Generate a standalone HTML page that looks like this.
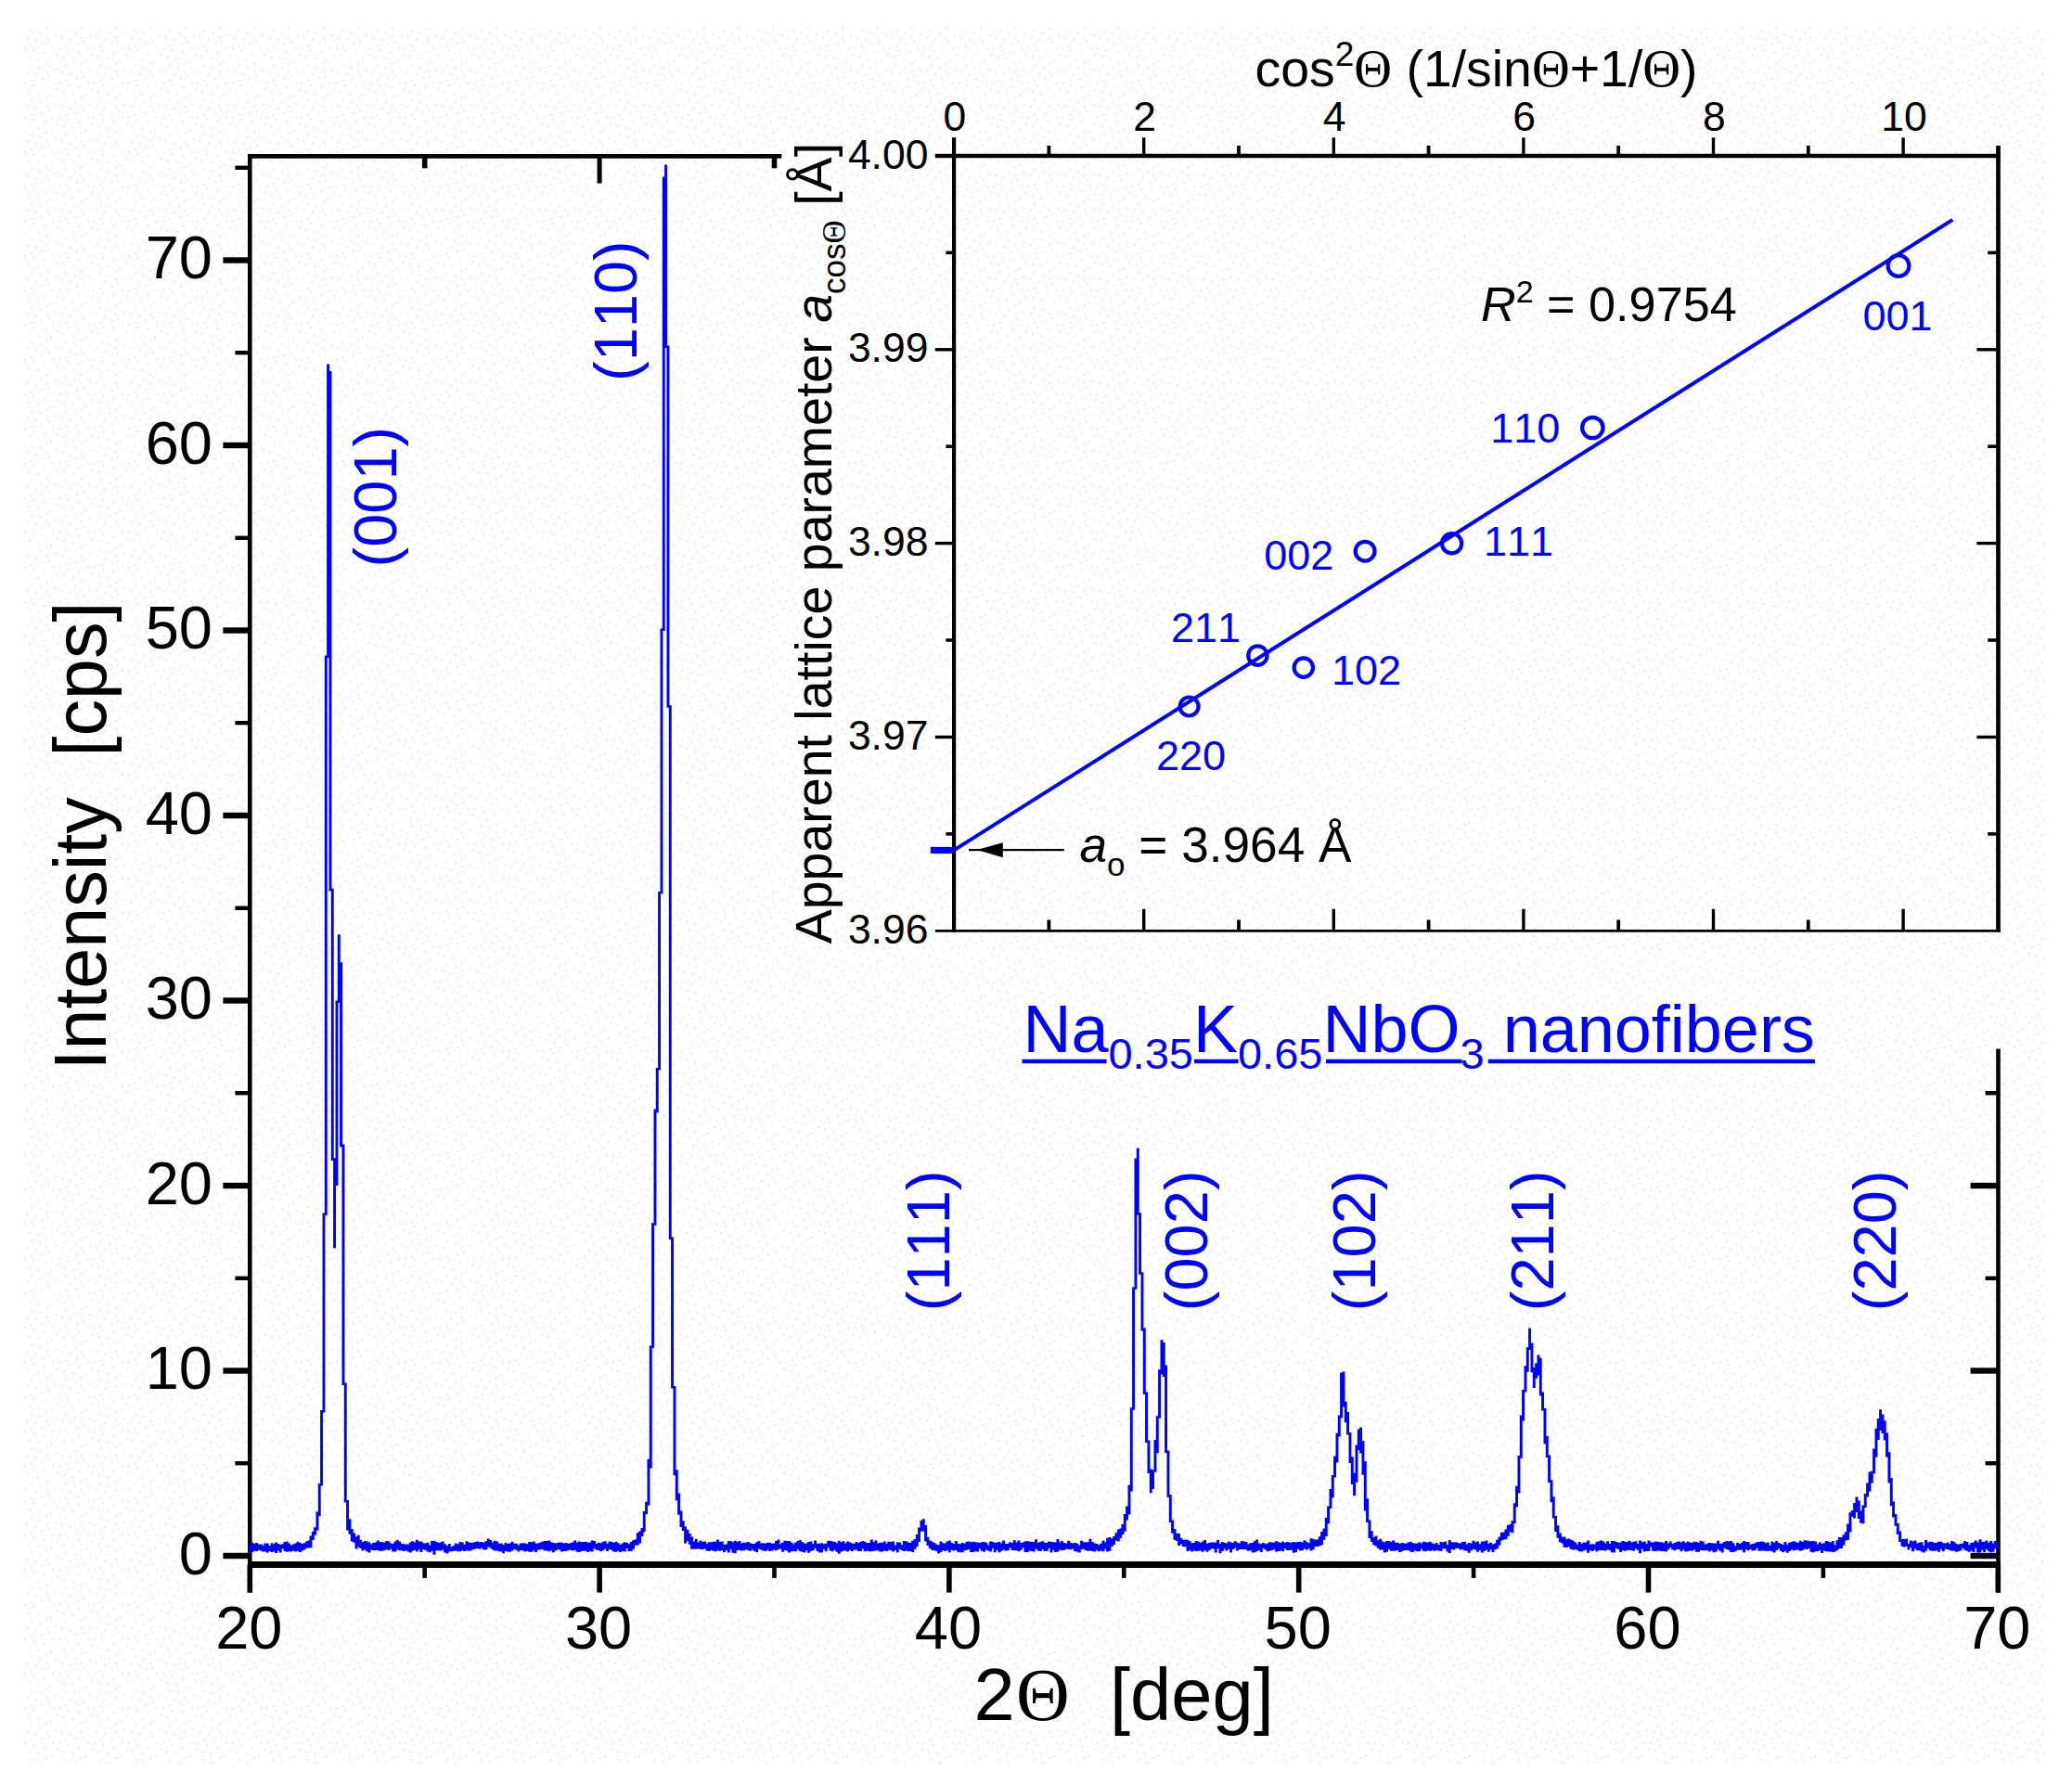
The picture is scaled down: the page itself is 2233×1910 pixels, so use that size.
<!DOCTYPE html>
<html lang="en"><head><meta charset="utf-8"><title>XRD pattern of Na0.35K0.65NbO3 nanofibers</title>
<style>html,body{margin:0;padding:0;background:#fff}svg{display:block}text{font-family:'Liberation Sans',Arial,Helvetica,sans-serif;font-kerning:none;font-variant-ligatures:none}</style>
</head><body>
<svg width="2233" height="1910" viewBox="0 0 2233 1910">
<defs><pattern id="dz" width="37.28" height="37.28" patternUnits="userSpaceOnUse" x="26" y="30">
<rect x="6.99" y="2.33" width="2.2" height="2.2" fill="#f8e4e4"/>
<rect x="23.30" y="0.00" width="2.2" height="2.2" fill="#f8e4e4"/>
<rect x="16.31" y="4.66" width="2.2" height="2.2" fill="#f8e4e4"/>
<rect x="2.33" y="9.32" width="2.2" height="2.2" fill="#f8e4e4"/>
<rect x="32.62" y="6.99" width="2.2" height="2.2" fill="#f8e4e4"/>
<rect x="11.65" y="11.65" width="2.2" height="2.2" fill="#f8e4e4"/>
<rect x="25.63" y="13.98" width="2.2" height="2.2" fill="#f8e4e4"/>
<rect x="18.64" y="16.31" width="2.2" height="2.2" fill="#f8e4e4"/>
<rect x="0.00" y="20.97" width="2.2" height="2.2" fill="#f8e4e4"/>
<rect x="30.29" y="20.97" width="2.2" height="2.2" fill="#f8e4e4"/>
<rect x="9.32" y="23.30" width="2.2" height="2.2" fill="#f8e4e4"/>
<rect x="20.97" y="25.63" width="2.2" height="2.2" fill="#f8e4e4"/>
<rect x="4.66" y="30.29" width="2.2" height="2.2" fill="#f8e4e4"/>
<rect x="34.95" y="27.96" width="2.2" height="2.2" fill="#f8e4e4"/>
<rect x="13.98" y="32.62" width="2.2" height="2.2" fill="#f8e4e4"/>
<rect x="27.96" y="34.95" width="2.2" height="2.2" fill="#f8e4e4"/>
<rect x="6.99" y="18.64" width="2.2" height="2.2" fill="#f8e4e4"/>
<rect x="23.30" y="9.32" width="2.2" height="2.2" fill="#f8e4e4"/>
<rect x="0.00" y="0.00" width="2.2" height="2.2" fill="#f6fefe"/>
<rect x="13.98" y="2.33" width="2.2" height="2.2" fill="#f6fefe"/>
<rect x="27.96" y="4.66" width="2.2" height="2.2" fill="#f6fefe"/>
<rect x="4.66" y="6.99" width="2.2" height="2.2" fill="#f6fefe"/>
<rect x="20.97" y="6.99" width="2.2" height="2.2" fill="#f6fefe"/>
<rect x="9.32" y="13.98" width="2.2" height="2.2" fill="#f6fefe"/>
<rect x="34.95" y="11.65" width="2.2" height="2.2" fill="#f6fefe"/>
<rect x="16.31" y="20.97" width="2.2" height="2.2" fill="#f6fefe"/>
<rect x="2.33" y="25.63" width="2.2" height="2.2" fill="#f6fefe"/>
<rect x="25.63" y="23.30" width="2.2" height="2.2" fill="#f6fefe"/>
<rect x="32.62" y="30.29" width="2.2" height="2.2" fill="#f6fefe"/>
<rect x="11.65" y="27.96" width="2.2" height="2.2" fill="#f6fefe"/>
<rect x="18.64" y="32.62" width="2.2" height="2.2" fill="#f6fefe"/>
<rect x="6.99" y="34.95" width="2.2" height="2.2" fill="#f6fefe"/>
<rect x="30.29" y="16.31" width="2.2" height="2.2" fill="#f6fefe"/>
<rect x="23.30" y="30.29" width="2.2" height="2.2" fill="#f6fefe"/>
</pattern></defs>
<rect x="0" y="0" width="2233" height="1910" fill="#ffffff"/>
<rect x="26" y="30" width="2178" height="1871" fill="url(#dz)"/>
<g id="main-axes">
<line x1="269.3" y1="166.1" x2="269.3" y2="1716.6" stroke="#000" stroke-width="4.6"/>
<line x1="267.0" y1="168.4" x2="842.3" y2="168.4" stroke="#000" stroke-width="4.6"/>
<line x1="267.0" y1="1686.4" x2="2155.9" y2="1686.4" stroke="#000" stroke-width="7.0"/>
<line x1="2153.5" y1="1130.5" x2="2153.5" y2="1716.6" stroke="#000" stroke-width="4.6"/>
<line x1="240.4" y1="1677.0" x2="269.3" y2="1677.0" stroke="#000" stroke-width="6.4"/>
<line x1="2123.6" y1="1677.0" x2="2153.5" y2="1677.0" stroke="#000" stroke-width="6.4"/>
<line x1="253.4" y1="1577.2" x2="269.3" y2="1577.2" stroke="#000" stroke-width="4.4"/>
<line x1="2139.6" y1="1577.2" x2="2153.5" y2="1577.2" stroke="#000" stroke-width="4.4"/>
<line x1="240.4" y1="1477.5" x2="269.3" y2="1477.5" stroke="#000" stroke-width="6.4"/>
<line x1="2123.6" y1="1477.5" x2="2153.5" y2="1477.5" stroke="#000" stroke-width="6.4"/>
<line x1="253.4" y1="1377.8" x2="269.3" y2="1377.8" stroke="#000" stroke-width="4.4"/>
<line x1="2139.6" y1="1377.8" x2="2153.5" y2="1377.8" stroke="#000" stroke-width="4.4"/>
<line x1="240.4" y1="1278.0" x2="269.3" y2="1278.0" stroke="#000" stroke-width="6.4"/>
<line x1="2123.6" y1="1278.0" x2="2153.5" y2="1278.0" stroke="#000" stroke-width="6.4"/>
<line x1="253.4" y1="1178.2" x2="269.3" y2="1178.2" stroke="#000" stroke-width="4.4"/>
<line x1="2139.6" y1="1178.2" x2="2153.5" y2="1178.2" stroke="#000" stroke-width="4.4"/>
<line x1="240.4" y1="1078.5" x2="269.3" y2="1078.5" stroke="#000" stroke-width="6.4"/>
<line x1="253.4" y1="978.8" x2="269.3" y2="978.8" stroke="#000" stroke-width="4.4"/>
<line x1="240.4" y1="879.0" x2="269.3" y2="879.0" stroke="#000" stroke-width="6.4"/>
<line x1="253.4" y1="779.2" x2="269.3" y2="779.2" stroke="#000" stroke-width="4.4"/>
<line x1="240.4" y1="679.5" x2="269.3" y2="679.5" stroke="#000" stroke-width="6.4"/>
<line x1="253.4" y1="579.8" x2="269.3" y2="579.8" stroke="#000" stroke-width="4.4"/>
<line x1="240.4" y1="480.0" x2="269.3" y2="480.0" stroke="#000" stroke-width="6.4"/>
<line x1="253.4" y1="380.2" x2="269.3" y2="380.2" stroke="#000" stroke-width="4.4"/>
<line x1="240.4" y1="280.5" x2="269.3" y2="280.5" stroke="#000" stroke-width="6.4"/>
<line x1="253.4" y1="180.8" x2="269.3" y2="180.8" stroke="#000" stroke-width="4.4"/>
<line x1="269.3" y1="1686.4" x2="269.3" y2="1716.6" stroke="#000" stroke-width="5.6"/>
<line x1="457.7" y1="1686.4" x2="457.7" y2="1700.9" stroke="#000" stroke-width="4.6"/>
<line x1="457.7" y1="168.4" x2="457.7" y2="181.3" stroke="#000" stroke-width="5.6"/>
<line x1="646.1" y1="1686.4" x2="646.1" y2="1716.6" stroke="#000" stroke-width="5.6"/>
<line x1="646.1" y1="168.4" x2="646.1" y2="197.6" stroke="#000" stroke-width="5.0"/>
<line x1="834.5" y1="1686.4" x2="834.5" y2="1700.9" stroke="#000" stroke-width="4.6"/>
<line x1="834.5" y1="168.4" x2="834.5" y2="181.3" stroke="#000" stroke-width="5.6"/>
<line x1="1022.9" y1="1686.4" x2="1022.9" y2="1716.6" stroke="#000" stroke-width="5.6"/>
<line x1="1211.3" y1="1686.4" x2="1211.3" y2="1700.9" stroke="#000" stroke-width="4.6"/>
<line x1="1399.7" y1="1686.4" x2="1399.7" y2="1716.6" stroke="#000" stroke-width="5.6"/>
<line x1="1588.1" y1="1686.4" x2="1588.1" y2="1700.9" stroke="#000" stroke-width="4.6"/>
<line x1="1776.5" y1="1686.4" x2="1776.5" y2="1716.6" stroke="#000" stroke-width="5.6"/>
<line x1="1964.9" y1="1686.4" x2="1964.9" y2="1700.9" stroke="#000" stroke-width="4.6"/>
<line x1="2153.3" y1="1686.4" x2="2153.3" y2="1716.6" stroke="#000" stroke-width="5.6"/>
</g>
<g id="main-tick-labels" font-size="65" fill="#000">
<text x="229.0" y="1696.8" text-anchor="end">0</text>
<text x="229.0" y="1497.3" text-anchor="end">10</text>
<text x="229.0" y="1297.8" text-anchor="end">20</text>
<text x="229.0" y="1098.3" text-anchor="end">30</text>
<text x="229.0" y="898.8" text-anchor="end">40</text>
<text x="229.0" y="699.3" text-anchor="end">50</text>
<text x="229.0" y="499.8" text-anchor="end">60</text>
<text x="229.0" y="300.3" text-anchor="end">70</text>
<text x="268.3" y="1777.2" text-anchor="middle">20</text>
<text x="645.1" y="1777.2" text-anchor="middle">30</text>
<text x="1021.9" y="1777.2" text-anchor="middle">40</text>
<text x="1398.7" y="1777.2" text-anchor="middle">50</text>
<text x="1775.5" y="1777.2" text-anchor="middle">60</text>
<text x="2152.3" y="1777.2" text-anchor="middle">70</text>
</g>
<text id="ytitle" transform="translate(114.0,1153.5) rotate(-90)" font-size="79" fill="#000" xml:space="preserve">Intensity  [cps]</text>
<text id="xtitle" x="1049.5" y="1854.1" font-size="79.5" fill="#000">2<tspan x="1095.0" style="font-family:'Liberation Serif','Times New Roman',serif" font-size="80">Θ</tspan><tspan x="1196">[deg]</tspan></text>
<path id="xrd" fill="#0000ff" d="M268.1 1665.4h2.93V1674.5h-2.93zM270.5 1662.8h2.93V1672.9h-2.93zM272.8 1664.1h2.93V1671.6h-2.93zM275.1 1663.0h2.93V1672.1h-2.93zM277.5 1664.4h2.93V1670.8h-2.93zM279.8 1664.5h2.93V1671.6h-2.93zM282.1 1665.8h2.93V1672.4h-2.93zM284.5 1663.4h2.93V1672.5h-2.93zM286.8 1663.4h2.93V1673.6h-2.93zM289.1 1666.1h2.93V1671.9h-2.93zM291.5 1663.2h2.93V1673.1h-2.93zM293.8 1664.3h2.93V1672.3h-2.93zM296.1 1662.4h2.93V1674.0h-2.93zM298.5 1663.9h2.93V1671.6h-2.93zM300.8 1665.1h2.93V1673.5h-2.93zM303.1 1664.3h2.93V1669.2h-2.93zM305.5 1662.0h2.93V1672.0h-2.93zM307.8 1661.4h2.93V1672.8h-2.93zM310.1 1663.5h2.93V1672.2h-2.93zM312.5 1665.5h2.93V1672.6h-2.93zM314.8 1664.5h2.93V1671.5h-2.93zM317.1 1663.5h2.93V1672.4h-2.93zM319.5 1661.7h2.93V1671.7h-2.93zM321.8 1662.9h2.93V1672.9h-2.93zM324.1 1663.9h2.93V1671.6h-2.93zM326.5 1663.2h2.93V1670.4h-2.93zM328.8 1661.6h2.93V1668.8h-2.93zM331.1 1660.5h2.93V1668.6h-2.93zM333.5 1655.5h2.93V1668.2h-2.93zM335.8 1650.7h2.93V1660.1h-2.93zM338.1 1646.2h2.93V1654.8h-2.93zM340.5 1629.5h2.93V1649.6h-2.93zM342.8 1599.0h2.93V1633.9h-2.93zM345.1 1520.1h2.93V1601.5h-2.93zM347.5 1307.4h2.93V1522.6h-2.93zM349.8 706.4h2.93V1309.9h-2.93zM352.1 392.6h2.93V709.0h-2.93zM354.5 399.9h2.93V960.4h-2.93zM356.8 957.8h2.93V1250.9h-2.93zM359.1 1248.3h2.93V1345.2h-2.93zM361.5 1078.6h2.93V1278.1h-2.93zM363.8 1007.3h2.93V1081.1h-2.93zM366.1 1037.3h2.93V1236.2h-2.93zM368.5 1233.6h2.93V1492.9h-2.93zM370.8 1490.4h2.93V1619.4h-2.93zM373.1 1616.9h2.93V1649.4h-2.93zM375.5 1637.3h2.93V1653.7h-2.93zM377.8 1647.9h2.93V1661.6h-2.93zM380.1 1652.6h2.93V1662.4h-2.93zM382.5 1656.2h2.93V1669.4h-2.93zM384.8 1654.8h2.93V1667.4h-2.93zM387.1 1659.7h2.93V1669.0h-2.93zM389.5 1662.0h2.93V1671.6h-2.93zM391.8 1661.1h2.93V1670.3h-2.93zM394.1 1661.4h2.93V1672.3h-2.93zM396.5 1662.6h2.93V1673.4h-2.93zM398.8 1664.5h2.93V1670.5h-2.93zM401.1 1663.0h2.93V1670.9h-2.93zM403.5 1662.4h2.93V1671.0h-2.93zM405.8 1660.4h2.93V1671.0h-2.93zM408.1 1661.9h2.93V1671.8h-2.93zM410.5 1662.2h2.93V1671.8h-2.93zM412.8 1662.8h2.93V1671.1h-2.93zM415.1 1660.9h2.93V1670.2h-2.93zM417.5 1661.4h2.93V1671.0h-2.93zM419.8 1663.6h2.93V1669.5h-2.93zM422.1 1664.1h2.93V1672.6h-2.93zM424.5 1661.5h2.93V1672.5h-2.93zM426.8 1660.1h2.93V1670.2h-2.93zM429.1 1661.6h2.93V1671.2h-2.93zM431.5 1663.7h2.93V1671.3h-2.93zM433.8 1664.2h2.93V1672.0h-2.93zM436.1 1664.7h2.93V1671.2h-2.93zM438.5 1664.5h2.93V1672.4h-2.93zM440.8 1662.6h2.93V1673.4h-2.93zM443.1 1661.3h2.93V1671.8h-2.93zM445.5 1662.4h2.93V1670.7h-2.93zM447.8 1659.7h2.93V1672.6h-2.93zM450.1 1661.5h2.93V1670.2h-2.93zM452.5 1661.6h2.93V1672.9h-2.93zM454.8 1663.3h2.93V1670.0h-2.93zM457.1 1663.4h2.93V1670.7h-2.93zM459.5 1662.7h2.93V1672.6h-2.93zM461.8 1665.6h2.93V1673.2h-2.93zM464.1 1660.9h2.93V1671.8h-2.93zM466.5 1660.8h2.93V1675.8h-2.93zM468.8 1661.9h2.93V1671.3h-2.93zM471.1 1662.9h2.93V1671.2h-2.93zM473.5 1662.5h2.93V1671.6h-2.93zM475.8 1661.6h2.93V1670.5h-2.93zM478.1 1664.6h2.93V1673.5h-2.93zM480.5 1666.1h2.93V1674.5h-2.93zM482.8 1664.0h2.93V1672.4h-2.93zM485.1 1667.3h2.93V1672.3h-2.93zM487.5 1666.0h2.93V1671.7h-2.93zM489.8 1663.4h2.93V1671.5h-2.93zM492.1 1664.5h2.93V1672.2h-2.93zM494.5 1662.1h2.93V1672.2h-2.93zM496.8 1662.4h2.93V1670.9h-2.93zM499.1 1664.7h2.93V1671.9h-2.93zM501.5 1661.2h2.93V1671.3h-2.93zM503.8 1662.4h2.93V1671.7h-2.93zM506.1 1662.9h2.93V1671.3h-2.93zM508.5 1662.9h2.93V1670.0h-2.93zM510.8 1661.9h2.93V1669.6h-2.93zM513.1 1661.6h2.93V1669.0h-2.93zM515.5 1662.3h2.93V1669.8h-2.93zM517.8 1661.9h2.93V1668.4h-2.93zM520.1 1662.8h2.93V1670.6h-2.93zM522.5 1661.3h2.93V1670.3h-2.93zM524.8 1658.5h2.93V1667.6h-2.93zM527.1 1659.9h2.93V1668.4h-2.93zM529.5 1662.6h2.93V1670.2h-2.93zM531.8 1660.8h2.93V1671.5h-2.93zM534.1 1661.6h2.93V1671.2h-2.93zM536.5 1663.7h2.93V1672.3h-2.93zM538.8 1663.6h2.93V1672.6h-2.93zM541.1 1665.1h2.93V1674.2h-2.93zM543.5 1663.1h2.93V1671.9h-2.93zM545.8 1663.9h2.93V1672.5h-2.93zM548.1 1663.6h2.93V1672.7h-2.93zM550.5 1661.8h2.93V1671.6h-2.93zM552.8 1663.7h2.93V1670.0h-2.93zM555.1 1663.7h2.93V1670.8h-2.93zM557.5 1665.4h2.93V1672.5h-2.93zM559.8 1663.5h2.93V1670.9h-2.93zM562.1 1663.3h2.93V1671.2h-2.93zM564.5 1663.6h2.93V1672.5h-2.93zM566.8 1664.3h2.93V1671.8h-2.93zM569.1 1662.0h2.93V1672.7h-2.93zM571.5 1662.3h2.93V1672.8h-2.93zM573.8 1661.6h2.93V1671.3h-2.93zM576.1 1663.7h2.93V1672.9h-2.93zM578.5 1663.5h2.93V1670.8h-2.93zM580.8 1662.7h2.93V1670.2h-2.93zM583.1 1661.7h2.93V1670.0h-2.93zM585.5 1661.0h2.93V1671.6h-2.93zM587.8 1660.9h2.93V1671.4h-2.93zM590.1 1660.4h2.93V1672.3h-2.93zM592.5 1662.3h2.93V1671.3h-2.93zM594.8 1663.0h2.93V1673.2h-2.93zM597.1 1663.5h2.93V1671.5h-2.93zM599.5 1663.0h2.93V1670.2h-2.93zM601.8 1662.6h2.93V1670.5h-2.93zM604.1 1662.8h2.93V1672.5h-2.93zM606.5 1663.6h2.93V1672.1h-2.93zM608.8 1663.1h2.93V1671.7h-2.93zM611.1 1664.0h2.93V1670.7h-2.93zM613.5 1663.3h2.93V1670.8h-2.93zM615.8 1662.4h2.93V1671.6h-2.93zM618.1 1660.5h2.93V1670.8h-2.93zM620.5 1662.7h2.93V1672.8h-2.93zM622.8 1661.4h2.93V1672.9h-2.93zM625.1 1662.2h2.93V1671.9h-2.93zM627.5 1662.1h2.93V1671.7h-2.93zM629.8 1661.7h2.93V1671.6h-2.93zM632.1 1662.7h2.93V1673.0h-2.93zM634.5 1662.6h2.93V1671.9h-2.93zM636.8 1660.5h2.93V1672.5h-2.93zM639.1 1660.9h2.93V1669.2h-2.93zM641.5 1663.9h2.93V1670.4h-2.93zM643.8 1662.8h2.93V1671.1h-2.93zM646.1 1663.4h2.93V1672.2h-2.93zM648.5 1661.8h2.93V1671.0h-2.93zM650.8 1661.2h2.93V1669.5h-2.93zM653.1 1663.7h2.93V1672.1h-2.93zM655.5 1661.4h2.93V1670.0h-2.93zM657.8 1662.1h2.93V1670.7h-2.93zM660.1 1662.9h2.93V1672.5h-2.93zM662.5 1661.7h2.93V1672.8h-2.93zM664.8 1663.2h2.93V1671.7h-2.93zM667.1 1665.0h2.93V1672.9h-2.93zM669.5 1663.4h2.93V1671.9h-2.93zM671.8 1662.2h2.93V1672.4h-2.93zM674.1 1663.1h2.93V1669.1h-2.93zM676.5 1664.3h2.93V1672.2h-2.93zM678.8 1661.9h2.93V1672.1h-2.93zM681.1 1660.3h2.93V1669.8h-2.93zM683.5 1659.3h2.93V1665.8h-2.93zM685.8 1652.3h2.93V1665.6h-2.93zM688.1 1650.6h2.93V1663.4h-2.93zM690.5 1647.0h2.93V1655.9h-2.93zM692.8 1629.0h2.93V1651.3h-2.93zM695.1 1618.7h2.93V1632.3h-2.93zM697.5 1572.7h2.93V1622.7h-2.93zM699.8 1450.5h2.93V1582.6h-2.93zM702.1 1318.3h2.93V1453.0h-2.93zM704.5 1195.4h2.93V1320.8h-2.93zM706.8 1150.9h2.93V1199.2h-2.93zM709.1 960.9h2.93V1153.4h-2.93zM711.5 677.6h2.93V963.5h-2.93zM713.8 190.4h2.93V680.1h-2.93zM716.1 177.6h2.93V375.1h-2.93zM718.5 372.5h2.93V762.8h-2.93zM720.8 760.3h2.93V1335.9h-2.93zM723.1 1333.4h2.93V1496.6h-2.93zM725.5 1494.0h2.93V1590.3h-2.93zM727.8 1584.3h2.93V1617.3h-2.93zM730.1 1609.6h2.93V1632.7h-2.93zM732.5 1628.6h2.93V1646.0h-2.93zM734.8 1639.2h2.93V1650.1h-2.93zM737.1 1645.6h2.93V1663.5h-2.93zM739.5 1648.8h2.93V1661.3h-2.93zM741.8 1652.9h2.93V1664.8h-2.93zM744.1 1656.6h2.93V1669.8h-2.93zM746.5 1661.4h2.93V1669.8h-2.93zM748.8 1658.8h2.93V1669.8h-2.93zM751.1 1662.6h2.93V1669.2h-2.93zM753.5 1660.5h2.93V1670.1h-2.93zM755.8 1661.9h2.93V1670.0h-2.93zM758.1 1661.5h2.93V1669.3h-2.93zM760.5 1663.7h2.93V1671.5h-2.93zM762.8 1662.3h2.93V1672.0h-2.93zM765.1 1662.3h2.93V1671.0h-2.93zM767.5 1661.7h2.93V1671.7h-2.93zM769.8 1661.8h2.93V1672.3h-2.93zM772.1 1659.5h2.93V1671.3h-2.93zM774.5 1662.0h2.93V1671.8h-2.93zM776.8 1661.6h2.93V1670.9h-2.93zM779.1 1664.8h2.93V1673.0h-2.93zM781.5 1664.5h2.93V1671.1h-2.93zM783.8 1661.0h2.93V1673.5h-2.93zM786.1 1661.3h2.93V1670.1h-2.93zM788.5 1662.3h2.93V1673.7h-2.93zM790.8 1660.7h2.93V1674.2h-2.93zM793.1 1662.1h2.93V1670.9h-2.93zM795.5 1661.1h2.93V1670.7h-2.93zM797.8 1663.5h2.93V1671.6h-2.93zM800.1 1662.8h2.93V1671.3h-2.93zM802.5 1662.8h2.93V1670.3h-2.93zM804.8 1662.1h2.93V1670.9h-2.93zM807.1 1663.3h2.93V1671.7h-2.93zM809.5 1663.9h2.93V1670.6h-2.93zM811.8 1664.0h2.93V1672.1h-2.93zM814.1 1662.2h2.93V1673.1h-2.93zM816.5 1660.9h2.93V1669.5h-2.93zM818.8 1663.5h2.93V1670.6h-2.93zM821.1 1663.3h2.93V1671.6h-2.93zM823.5 1663.8h2.93V1672.1h-2.93zM825.8 1662.8h2.93V1670.5h-2.93zM828.1 1662.7h2.93V1671.9h-2.93zM830.5 1663.8h2.93V1671.6h-2.93zM832.8 1663.6h2.93V1670.4h-2.93zM835.1 1661.1h2.93V1671.2h-2.93zM837.5 1659.5h2.93V1669.9h-2.93zM839.8 1664.3h2.93V1669.6h-2.93zM842.1 1662.8h2.93V1672.7h-2.93zM844.5 1660.8h2.93V1671.0h-2.93zM846.8 1661.1h2.93V1671.6h-2.93zM849.1 1660.9h2.93V1673.4h-2.93zM851.5 1662.5h2.93V1672.2h-2.93zM853.8 1664.5h2.93V1672.1h-2.93zM856.1 1662.5h2.93V1672.3h-2.93zM858.5 1660.9h2.93V1670.3h-2.93zM860.8 1659.9h2.93V1672.1h-2.93zM863.1 1661.9h2.93V1672.7h-2.93zM865.5 1663.6h2.93V1673.6h-2.93zM867.8 1663.5h2.93V1671.2h-2.93zM870.1 1662.0h2.93V1673.7h-2.93zM872.5 1661.5h2.93V1672.1h-2.93zM874.8 1664.3h2.93V1670.9h-2.93zM877.1 1660.4h2.93V1668.8h-2.93zM879.5 1663.8h2.93V1672.0h-2.93zM881.8 1663.8h2.93V1673.4h-2.93zM884.1 1663.2h2.93V1673.5h-2.93zM886.5 1664.2h2.93V1670.1h-2.93zM888.8 1663.7h2.93V1672.2h-2.93zM891.1 1661.1h2.93V1668.3h-2.93zM893.5 1660.7h2.93V1671.6h-2.93zM895.8 1661.4h2.93V1672.2h-2.93zM898.1 1662.0h2.93V1670.5h-2.93zM900.5 1663.3h2.93V1672.8h-2.93zM902.8 1660.7h2.93V1674.7h-2.93zM905.1 1662.2h2.93V1672.6h-2.93zM907.5 1661.3h2.93V1671.8h-2.93zM909.8 1663.5h2.93V1671.3h-2.93zM912.1 1661.4h2.93V1672.4h-2.93zM914.5 1662.6h2.93V1670.8h-2.93zM916.8 1663.4h2.93V1671.9h-2.93zM919.1 1664.0h2.93V1670.5h-2.93zM921.5 1662.1h2.93V1670.6h-2.93zM923.8 1663.2h2.93V1672.0h-2.93zM926.1 1662.0h2.93V1672.0h-2.93zM928.5 1661.1h2.93V1669.4h-2.93zM930.8 1661.9h2.93V1672.3h-2.93zM933.1 1663.2h2.93V1671.6h-2.93zM935.5 1663.0h2.93V1672.2h-2.93zM937.8 1659.4h2.93V1672.3h-2.93zM940.1 1662.2h2.93V1671.7h-2.93zM942.5 1660.6h2.93V1671.3h-2.93zM944.8 1663.8h2.93V1671.2h-2.93zM947.1 1662.8h2.93V1672.5h-2.93zM949.5 1662.8h2.93V1672.6h-2.93zM951.8 1661.5h2.93V1671.2h-2.93zM954.1 1663.8h2.93V1672.0h-2.93zM956.5 1661.7h2.93V1670.7h-2.93zM958.8 1662.0h2.93V1671.0h-2.93zM961.1 1661.5h2.93V1672.6h-2.93zM963.5 1665.5h2.93V1671.0h-2.93zM965.8 1662.3h2.93V1673.2h-2.93zM968.1 1662.6h2.93V1669.7h-2.93zM970.5 1665.0h2.93V1671.1h-2.93zM972.8 1660.9h2.93V1672.1h-2.93zM975.1 1661.2h2.93V1671.5h-2.93zM977.5 1662.5h2.93V1672.3h-2.93zM979.8 1663.0h2.93V1672.0h-2.93zM982.1 1660.8h2.93V1673.1h-2.93zM984.5 1658.9h2.93V1669.8h-2.93zM986.8 1653.9h2.93V1667.1h-2.93zM989.1 1646.6h2.93V1661.9h-2.93zM991.5 1638.8h2.93V1650.7h-2.93zM993.8 1637.3h2.93V1650.6h-2.93zM996.1 1644.1h2.93V1661.4h-2.93zM998.5 1656.8h2.93V1666.0h-2.93zM1000.8 1660.5h2.93V1669.1h-2.93zM1003.1 1661.8h2.93V1670.7h-2.93zM1005.5 1663.1h2.93V1671.2h-2.93zM1007.8 1664.7h2.93V1671.7h-2.93zM1010.1 1665.2h2.93V1674.4h-2.93zM1012.5 1661.6h2.93V1673.1h-2.93zM1014.8 1663.2h2.93V1671.1h-2.93zM1017.1 1663.4h2.93V1672.0h-2.93zM1019.5 1661.5h2.93V1670.9h-2.93zM1021.8 1660.4h2.93V1673.3h-2.93zM1024.1 1662.9h2.93V1670.7h-2.93zM1026.5 1663.9h2.93V1671.5h-2.93zM1028.8 1661.1h2.93V1670.8h-2.93zM1031.1 1663.8h2.93V1672.8h-2.93zM1033.5 1664.3h2.93V1673.3h-2.93zM1035.8 1663.0h2.93V1673.2h-2.93zM1038.1 1663.8h2.93V1671.3h-2.93zM1040.5 1661.7h2.93V1670.8h-2.93zM1042.8 1661.5h2.93V1670.1h-2.93zM1045.1 1662.2h2.93V1673.1h-2.93zM1047.5 1661.7h2.93V1673.1h-2.93zM1049.8 1662.3h2.93V1671.9h-2.93zM1052.1 1662.5h2.93V1672.5h-2.93zM1054.5 1663.0h2.93V1669.2h-2.93zM1056.8 1662.3h2.93V1671.7h-2.93zM1059.1 1662.1h2.93V1672.7h-2.93zM1061.5 1662.8h2.93V1670.4h-2.93zM1063.8 1665.4h2.93V1671.5h-2.93zM1066.1 1661.5h2.93V1672.5h-2.93zM1068.5 1662.0h2.93V1668.9h-2.93zM1070.8 1662.9h2.93V1673.3h-2.93zM1073.1 1662.4h2.93V1670.7h-2.93zM1075.5 1661.9h2.93V1673.3h-2.93zM1077.8 1663.4h2.93V1671.7h-2.93zM1080.1 1660.6h2.93V1670.4h-2.93zM1082.5 1664.1h2.93V1671.6h-2.93zM1084.8 1664.0h2.93V1671.2h-2.93zM1087.1 1662.2h2.93V1668.5h-2.93zM1089.5 1663.0h2.93V1670.9h-2.93zM1091.8 1660.2h2.93V1671.1h-2.93zM1094.1 1662.5h2.93V1671.3h-2.93zM1096.5 1660.5h2.93V1672.3h-2.93zM1098.8 1663.1h2.93V1670.8h-2.93zM1101.1 1662.4h2.93V1668.2h-2.93zM1103.5 1661.2h2.93V1672.9h-2.93zM1105.8 1661.3h2.93V1673.1h-2.93zM1108.1 1661.4h2.93V1671.6h-2.93zM1110.5 1662.1h2.93V1672.1h-2.93zM1112.8 1662.2h2.93V1672.5h-2.93zM1115.1 1659.3h2.93V1669.5h-2.93zM1117.5 1663.1h2.93V1671.4h-2.93zM1119.8 1662.1h2.93V1672.1h-2.93zM1122.1 1661.3h2.93V1670.1h-2.93zM1124.5 1662.7h2.93V1671.9h-2.93zM1126.8 1662.9h2.93V1671.8h-2.93zM1129.1 1661.6h2.93V1669.0h-2.93zM1131.5 1662.0h2.93V1673.4h-2.93zM1133.8 1662.3h2.93V1670.8h-2.93zM1136.1 1662.5h2.93V1672.9h-2.93zM1138.5 1658.9h2.93V1672.6h-2.93zM1140.8 1662.5h2.93V1670.6h-2.93zM1143.1 1661.1h2.93V1670.9h-2.93zM1145.5 1663.0h2.93V1670.7h-2.93zM1147.8 1663.7h2.93V1669.4h-2.93zM1150.1 1660.8h2.93V1670.0h-2.93zM1152.5 1662.7h2.93V1670.2h-2.93zM1154.8 1663.6h2.93V1669.5h-2.93zM1157.1 1662.9h2.93V1672.3h-2.93zM1159.5 1663.8h2.93V1672.6h-2.93zM1161.8 1665.5h2.93V1673.4h-2.93zM1164.1 1660.7h2.93V1670.3h-2.93zM1166.5 1662.3h2.93V1669.8h-2.93zM1168.8 1662.3h2.93V1670.9h-2.93zM1171.1 1662.2h2.93V1671.8h-2.93zM1173.5 1658.7h2.93V1671.4h-2.93zM1175.8 1661.9h2.93V1672.1h-2.93zM1178.1 1663.4h2.93V1672.5h-2.93zM1180.5 1663.9h2.93V1670.9h-2.93zM1182.8 1665.5h2.93V1672.2h-2.93zM1185.1 1663.7h2.93V1671.4h-2.93zM1187.5 1660.4h2.93V1672.2h-2.93zM1189.8 1662.5h2.93V1669.7h-2.93zM1192.1 1657.7h2.93V1672.6h-2.93zM1194.5 1657.0h2.93V1671.7h-2.93zM1196.8 1658.6h2.93V1667.1h-2.93zM1199.1 1656.0h2.93V1665.0h-2.93zM1201.5 1652.2h2.93V1660.6h-2.93zM1203.8 1648.5h2.93V1661.5h-2.93zM1206.1 1647.5h2.93V1657.9h-2.93zM1208.5 1643.1h2.93V1654.0h-2.93zM1210.8 1631.9h2.93V1650.8h-2.93zM1213.1 1623.6h2.93V1638.4h-2.93zM1215.5 1600.7h2.93V1632.4h-2.93zM1217.8 1517.3h2.93V1607.5h-2.93zM1220.1 1387.3h2.93V1519.8h-2.93zM1222.5 1248.4h2.93V1389.8h-2.93zM1224.8 1237.6h2.93V1309.8h-2.93zM1227.1 1307.3h2.93V1373.8h-2.93zM1229.5 1371.3h2.93V1434.4h-2.93zM1231.8 1431.2h2.93V1503.0h-2.93zM1234.1 1500.5h2.93V1555.0h-2.93zM1236.5 1552.5h2.93V1588.1h-2.93zM1238.8 1583.4h2.93V1609.3h-2.93zM1241.1 1584.3h2.93V1605.1h-2.93zM1243.5 1552.1h2.93V1586.8h-2.93zM1245.8 1526.2h2.93V1566.2h-2.93zM1248.1 1476.3h2.93V1528.8h-2.93zM1250.5 1444.3h2.93V1481.3h-2.93zM1252.8 1447.0h2.93V1484.1h-2.93zM1255.1 1471.6h2.93V1566.0h-2.93zM1257.5 1563.4h2.93V1613.8h-2.93zM1259.8 1611.3h2.93V1641.1h-2.93zM1262.1 1638.6h2.93V1652.8h-2.93zM1264.5 1647.9h2.93V1659.7h-2.93zM1266.8 1652.8h2.93V1661.1h-2.93zM1269.1 1653.0h2.93V1665.9h-2.93zM1271.5 1657.7h2.93V1664.4h-2.93zM1273.8 1659.8h2.93V1666.9h-2.93zM1276.1 1659.6h2.93V1667.3h-2.93zM1278.5 1660.0h2.93V1671.9h-2.93zM1280.8 1661.3h2.93V1671.0h-2.93zM1283.1 1663.3h2.93V1672.6h-2.93zM1285.5 1663.1h2.93V1671.5h-2.93zM1287.8 1661.1h2.93V1671.9h-2.93zM1290.1 1661.8h2.93V1671.7h-2.93zM1292.5 1662.9h2.93V1671.4h-2.93zM1294.8 1661.6h2.93V1672.8h-2.93zM1297.1 1660.0h2.93V1671.0h-2.93zM1299.5 1663.7h2.93V1672.7h-2.93zM1301.8 1662.9h2.93V1670.9h-2.93zM1304.1 1662.6h2.93V1669.3h-2.93zM1306.5 1662.5h2.93V1669.4h-2.93zM1308.8 1662.4h2.93V1673.5h-2.93zM1311.1 1659.9h2.93V1669.3h-2.93zM1313.5 1663.7h2.93V1674.3h-2.93zM1315.8 1662.1h2.93V1672.1h-2.93zM1318.1 1663.0h2.93V1669.6h-2.93zM1320.5 1663.4h2.93V1671.4h-2.93zM1322.8 1661.6h2.93V1669.8h-2.93zM1325.1 1662.4h2.93V1673.6h-2.93zM1327.5 1663.1h2.93V1670.0h-2.93zM1329.8 1661.2h2.93V1668.4h-2.93zM1332.1 1662.8h2.93V1671.5h-2.93zM1334.5 1663.4h2.93V1670.0h-2.93zM1336.8 1661.1h2.93V1670.0h-2.93zM1339.1 1661.6h2.93V1670.1h-2.93zM1341.5 1661.9h2.93V1670.2h-2.93zM1343.8 1664.4h2.93V1671.7h-2.93zM1346.1 1663.3h2.93V1670.9h-2.93zM1348.5 1662.9h2.93V1673.4h-2.93zM1350.8 1661.2h2.93V1673.2h-2.93zM1353.1 1659.6h2.93V1671.9h-2.93zM1355.5 1663.5h2.93V1670.9h-2.93zM1357.8 1664.2h2.93V1673.0h-2.93zM1360.1 1662.9h2.93V1668.8h-2.93zM1362.5 1664.2h2.93V1670.6h-2.93zM1364.8 1663.4h2.93V1672.3h-2.93zM1367.1 1662.2h2.93V1671.6h-2.93zM1369.5 1662.5h2.93V1670.9h-2.93zM1371.8 1662.4h2.93V1670.0h-2.93zM1374.1 1661.3h2.93V1672.6h-2.93zM1376.5 1662.3h2.93V1672.1h-2.93zM1378.8 1663.1h2.93V1671.5h-2.93zM1381.1 1661.6h2.93V1672.3h-2.93zM1383.5 1663.0h2.93V1669.3h-2.93zM1385.8 1662.0h2.93V1670.9h-2.93zM1388.1 1662.4h2.93V1671.1h-2.93zM1390.5 1662.7h2.93V1670.5h-2.93zM1392.8 1662.0h2.93V1673.7h-2.93zM1395.1 1662.4h2.93V1673.0h-2.93zM1397.5 1661.9h2.93V1669.7h-2.93zM1399.8 1661.8h2.93V1671.6h-2.93zM1402.1 1662.7h2.93V1671.0h-2.93zM1404.5 1660.3h2.93V1669.2h-2.93zM1406.8 1662.0h2.93V1670.4h-2.93zM1409.1 1663.3h2.93V1668.9h-2.93zM1411.5 1658.2h2.93V1671.4h-2.93zM1413.8 1658.8h2.93V1670.3h-2.93zM1416.1 1659.7h2.93V1667.1h-2.93zM1418.5 1659.2h2.93V1667.1h-2.93zM1420.8 1656.3h2.93V1666.3h-2.93zM1423.1 1651.1h2.93V1665.3h-2.93zM1425.5 1647.5h2.93V1659.7h-2.93zM1427.8 1635.9h2.93V1656.0h-2.93zM1430.1 1623.4h2.93V1642.3h-2.93zM1432.5 1605.1h2.93V1625.9h-2.93zM1434.8 1589.9h2.93V1614.2h-2.93zM1437.1 1569.5h2.93V1592.4h-2.93zM1439.5 1544.7h2.93V1576.6h-2.93zM1441.8 1525.4h2.93V1548.5h-2.93zM1444.1 1479.6h2.93V1528.5h-2.93zM1446.5 1478.4h2.93V1516.4h-2.93zM1448.8 1510.8h2.93V1533.3h-2.93zM1451.1 1522.0h2.93V1546.6h-2.93zM1453.5 1544.0h2.93V1576.9h-2.93zM1455.8 1570.2h2.93V1600.0h-2.93zM1458.1 1587.8h2.93V1612.3h-2.93zM1460.5 1557.6h2.93V1597.8h-2.93zM1462.8 1540.6h2.93V1563.1h-2.93zM1465.1 1538.5h2.93V1566.5h-2.93zM1467.5 1553.0h2.93V1589.8h-2.93zM1469.8 1574.9h2.93V1628.5h-2.93zM1472.1 1615.3h2.93V1640.9h-2.93zM1474.5 1638.4h2.93V1658.1h-2.93zM1476.8 1650.3h2.93V1661.7h-2.93zM1479.1 1657.0h2.93V1665.2h-2.93zM1481.5 1655.5h2.93V1666.6h-2.93zM1483.8 1660.3h2.93V1668.7h-2.93zM1486.1 1658.8h2.93V1670.6h-2.93zM1488.5 1661.4h2.93V1670.6h-2.93zM1490.8 1662.5h2.93V1673.5h-2.93zM1493.1 1660.9h2.93V1672.8h-2.93zM1495.5 1660.9h2.93V1670.1h-2.93zM1497.8 1662.0h2.93V1671.8h-2.93zM1500.1 1660.6h2.93V1671.8h-2.93zM1502.5 1662.7h2.93V1671.5h-2.93zM1504.8 1662.7h2.93V1671.0h-2.93zM1507.1 1664.0h2.93V1673.0h-2.93zM1509.5 1663.1h2.93V1672.3h-2.93zM1511.8 1663.5h2.93V1670.9h-2.93zM1514.1 1663.7h2.93V1670.9h-2.93zM1516.5 1662.5h2.93V1671.0h-2.93zM1518.8 1661.8h2.93V1672.4h-2.93zM1521.1 1663.2h2.93V1673.1h-2.93zM1523.5 1663.5h2.93V1671.3h-2.93zM1525.8 1663.8h2.93V1672.3h-2.93zM1528.1 1662.6h2.93V1672.3h-2.93zM1530.5 1663.4h2.93V1669.6h-2.93zM1532.8 1661.8h2.93V1671.7h-2.93zM1535.1 1662.2h2.93V1672.3h-2.93zM1537.5 1662.5h2.93V1671.2h-2.93zM1539.8 1661.7h2.93V1671.8h-2.93zM1542.1 1663.6h2.93V1670.9h-2.93zM1544.5 1664.3h2.93V1671.8h-2.93zM1546.8 1663.0h2.93V1670.9h-2.93zM1549.1 1664.9h2.93V1671.6h-2.93zM1551.5 1662.0h2.93V1671.9h-2.93zM1553.8 1662.6h2.93V1669.3h-2.93zM1556.1 1661.5h2.93V1669.6h-2.93zM1558.5 1664.9h2.93V1672.5h-2.93zM1560.8 1660.0h2.93V1674.0h-2.93zM1563.1 1662.2h2.93V1670.0h-2.93zM1565.5 1662.5h2.93V1670.6h-2.93zM1567.8 1662.2h2.93V1669.1h-2.93zM1570.1 1663.2h2.93V1668.7h-2.93zM1572.5 1663.5h2.93V1670.5h-2.93zM1574.8 1662.1h2.93V1670.1h-2.93zM1577.1 1661.7h2.93V1671.3h-2.93zM1579.5 1664.2h2.93V1671.8h-2.93zM1581.8 1663.0h2.93V1673.7h-2.93zM1584.1 1663.5h2.93V1671.3h-2.93zM1586.5 1660.7h2.93V1669.8h-2.93zM1588.8 1662.4h2.93V1670.4h-2.93zM1591.1 1661.6h2.93V1672.7h-2.93zM1593.5 1664.2h2.93V1671.0h-2.93zM1595.8 1661.5h2.93V1673.4h-2.93zM1598.1 1661.4h2.93V1671.9h-2.93zM1600.5 1660.6h2.93V1670.5h-2.93zM1602.8 1663.7h2.93V1672.7h-2.93zM1605.1 1662.7h2.93V1670.3h-2.93zM1607.5 1664.6h2.93V1673.0h-2.93zM1609.8 1663.4h2.93V1670.2h-2.93zM1612.1 1659.7h2.93V1669.2h-2.93zM1614.5 1656.6h2.93V1665.7h-2.93zM1616.8 1651.7h2.93V1660.5h-2.93zM1619.1 1651.5h2.93V1659.4h-2.93zM1621.5 1648.4h2.93V1659.3h-2.93zM1623.8 1644.1h2.93V1655.7h-2.93zM1626.1 1642.9h2.93V1651.3h-2.93zM1628.5 1639.3h2.93V1652.2h-2.93zM1630.8 1620.2h2.93V1641.9h-2.93zM1633.1 1601.8h2.93V1624.5h-2.93zM1635.5 1569.1h2.93V1609.5h-2.93zM1637.8 1525.4h2.93V1571.7h-2.93zM1640.1 1498.1h2.93V1531.6h-2.93zM1642.5 1472.3h2.93V1500.6h-2.93zM1644.8 1452.2h2.93V1478.8h-2.93zM1647.1 1431.4h2.93V1455.0h-2.93zM1649.5 1447.5h2.93V1479.3h-2.93zM1651.8 1473.9h2.93V1496.0h-2.93zM1654.1 1469.6h2.93V1485.7h-2.93zM1656.5 1460.5h2.93V1482.4h-2.93zM1658.8 1463.8h2.93V1504.6h-2.93zM1661.1 1500.5h2.93V1520.6h-2.93zM1663.5 1518.1h2.93V1556.2h-2.93zM1665.8 1547.9h2.93V1571.1h-2.93zM1668.1 1568.6h2.93V1597.9h-2.93zM1670.5 1595.3h2.93V1619.3h-2.93zM1672.8 1613.3h2.93V1636.6h-2.93zM1675.1 1634.1h2.93V1650.9h-2.93zM1677.5 1644.3h2.93V1657.7h-2.93zM1679.8 1652.4h2.93V1662.3h-2.93zM1682.1 1656.5h2.93V1663.5h-2.93zM1684.5 1656.6h2.93V1667.7h-2.93zM1686.8 1659.3h2.93V1667.9h-2.93zM1689.1 1658.5h2.93V1667.2h-2.93zM1691.5 1659.5h2.93V1669.8h-2.93zM1693.8 1660.7h2.93V1670.4h-2.93zM1696.1 1662.5h2.93V1670.0h-2.93zM1698.5 1664.5h2.93V1670.8h-2.93zM1700.8 1662.0h2.93V1672.3h-2.93zM1703.1 1663.8h2.93V1672.5h-2.93zM1705.5 1662.6h2.93V1671.5h-2.93zM1707.8 1662.5h2.93V1670.4h-2.93zM1710.1 1660.5h2.93V1673.8h-2.93zM1712.5 1664.6h2.93V1671.1h-2.93zM1714.8 1664.2h2.93V1672.0h-2.93zM1717.1 1664.5h2.93V1670.6h-2.93zM1719.5 1662.0h2.93V1672.5h-2.93zM1721.8 1661.2h2.93V1670.9h-2.93zM1724.1 1660.5h2.93V1671.0h-2.93zM1726.5 1661.6h2.93V1671.0h-2.93zM1728.8 1663.4h2.93V1671.4h-2.93zM1731.1 1661.3h2.93V1670.3h-2.93zM1733.5 1663.9h2.93V1671.1h-2.93zM1735.8 1661.1h2.93V1673.3h-2.93zM1738.1 1661.0h2.93V1673.4h-2.93zM1740.5 1662.0h2.93V1668.7h-2.93zM1742.8 1662.9h2.93V1670.1h-2.93zM1745.1 1662.5h2.93V1673.1h-2.93zM1747.5 1661.0h2.93V1671.2h-2.93zM1749.8 1661.7h2.93V1671.7h-2.93zM1752.1 1661.9h2.93V1670.9h-2.93zM1754.5 1660.8h2.93V1670.7h-2.93zM1756.8 1662.4h2.93V1670.9h-2.93zM1759.1 1661.7h2.93V1671.7h-2.93zM1761.5 1661.2h2.93V1669.4h-2.93zM1763.8 1664.1h2.93V1670.7h-2.93zM1766.1 1660.6h2.93V1674.3h-2.93zM1768.5 1662.3h2.93V1669.7h-2.93zM1770.8 1661.5h2.93V1672.4h-2.93zM1773.1 1663.8h2.93V1672.1h-2.93zM1775.5 1660.4h2.93V1671.9h-2.93zM1777.8 1662.2h2.93V1667.5h-2.93zM1780.1 1662.8h2.93V1671.7h-2.93zM1782.5 1661.5h2.93V1672.1h-2.93zM1784.8 1661.7h2.93V1671.4h-2.93zM1787.1 1662.3h2.93V1671.4h-2.93zM1789.5 1662.3h2.93V1672.0h-2.93zM1791.8 1663.3h2.93V1672.0h-2.93zM1794.1 1661.0h2.93V1672.5h-2.93zM1796.5 1663.5h2.93V1670.3h-2.93zM1798.8 1661.5h2.93V1668.1h-2.93zM1801.1 1664.1h2.93V1670.2h-2.93zM1803.5 1663.1h2.93V1671.3h-2.93zM1805.8 1662.1h2.93V1669.9h-2.93zM1808.1 1661.5h2.93V1670.0h-2.93zM1810.5 1662.6h2.93V1672.3h-2.93zM1812.8 1661.3h2.93V1670.6h-2.93zM1815.1 1663.0h2.93V1672.4h-2.93zM1817.5 1661.5h2.93V1672.2h-2.93zM1819.8 1662.5h2.93V1671.3h-2.93zM1822.1 1663.1h2.93V1671.8h-2.93zM1824.5 1661.8h2.93V1670.3h-2.93zM1826.8 1662.0h2.93V1672.8h-2.93zM1829.1 1662.9h2.93V1672.8h-2.93zM1831.5 1660.8h2.93V1671.1h-2.93zM1833.8 1661.6h2.93V1671.3h-2.93zM1836.1 1664.8h2.93V1671.2h-2.93zM1838.5 1663.8h2.93V1671.1h-2.93zM1840.8 1662.9h2.93V1672.5h-2.93zM1843.1 1663.3h2.93V1671.3h-2.93zM1845.5 1663.4h2.93V1673.2h-2.93zM1847.8 1663.4h2.93V1672.5h-2.93zM1850.1 1660.7h2.93V1669.9h-2.93zM1852.5 1664.1h2.93V1671.7h-2.93zM1854.8 1663.4h2.93V1673.4h-2.93zM1857.1 1662.1h2.93V1668.8h-2.93zM1859.5 1661.1h2.93V1670.1h-2.93zM1861.8 1661.4h2.93V1670.8h-2.93zM1864.1 1661.0h2.93V1673.0h-2.93zM1866.5 1663.2h2.93V1673.0h-2.93zM1868.8 1666.3h2.93V1672.2h-2.93zM1871.1 1662.8h2.93V1670.8h-2.93zM1873.5 1663.9h2.93V1670.8h-2.93zM1875.8 1662.7h2.93V1670.6h-2.93zM1878.1 1661.0h2.93V1673.3h-2.93zM1880.5 1662.0h2.93V1670.0h-2.93zM1882.8 1661.9h2.93V1671.3h-2.93zM1885.1 1664.7h2.93V1670.1h-2.93zM1887.5 1663.9h2.93V1671.4h-2.93zM1889.8 1663.4h2.93V1670.9h-2.93zM1892.1 1662.3h2.93V1668.8h-2.93zM1894.5 1662.0h2.93V1671.7h-2.93zM1896.8 1661.6h2.93V1671.4h-2.93zM1899.1 1661.9h2.93V1671.4h-2.93zM1901.5 1663.3h2.93V1671.8h-2.93zM1903.8 1662.6h2.93V1671.8h-2.93zM1906.1 1665.7h2.93V1671.5h-2.93zM1908.5 1661.4h2.93V1672.3h-2.93zM1910.8 1663.1h2.93V1673.4h-2.93zM1913.1 1661.1h2.93V1670.9h-2.93zM1915.5 1663.0h2.93V1669.3h-2.93zM1917.8 1664.0h2.93V1671.7h-2.93zM1920.1 1665.1h2.93V1672.9h-2.93zM1922.5 1662.0h2.93V1671.7h-2.93zM1924.8 1664.7h2.93V1673.7h-2.93zM1927.1 1662.8h2.93V1672.1h-2.93zM1929.5 1662.1h2.93V1670.6h-2.93zM1931.8 1661.2h2.93V1671.3h-2.93zM1934.1 1662.3h2.93V1670.7h-2.93zM1936.5 1662.9h2.93V1670.4h-2.93zM1938.8 1660.7h2.93V1671.8h-2.93zM1941.1 1662.0h2.93V1671.1h-2.93zM1943.5 1660.3h2.93V1669.6h-2.93zM1945.8 1660.6h2.93V1669.9h-2.93zM1948.1 1661.3h2.93V1669.1h-2.93zM1950.5 1661.3h2.93V1672.7h-2.93zM1952.8 1661.0h2.93V1673.2h-2.93zM1955.1 1661.6h2.93V1672.3h-2.93zM1957.5 1664.4h2.93V1671.9h-2.93zM1959.8 1662.2h2.93V1671.1h-2.93zM1962.1 1663.9h2.93V1673.9h-2.93zM1964.5 1663.2h2.93V1671.5h-2.93zM1966.8 1661.0h2.93V1672.2h-2.93zM1969.1 1661.7h2.93V1672.6h-2.93zM1971.5 1662.4h2.93V1672.5h-2.93zM1973.8 1661.0h2.93V1673.1h-2.93zM1976.1 1665.2h2.93V1672.4h-2.93zM1978.5 1660.3h2.93V1671.0h-2.93zM1980.8 1657.1h2.93V1669.3h-2.93zM1983.1 1657.0h2.93V1669.0h-2.93zM1985.5 1654.3h2.93V1665.8h-2.93zM1987.8 1651.2h2.93V1660.5h-2.93zM1990.1 1642.4h2.93V1659.7h-2.93zM1992.5 1630.2h2.93V1651.4h-2.93zM1994.8 1628.0h2.93V1634.7h-2.93zM1997.1 1620.0h2.93V1636.4h-2.93zM1999.5 1613.4h2.93V1630.1h-2.93zM2001.8 1617.4h2.93V1636.9h-2.93zM2004.1 1628.4h2.93V1641.8h-2.93zM2006.5 1622.6h2.93V1642.2h-2.93zM2008.8 1609.9h2.93V1625.1h-2.93zM2011.1 1598.5h2.93V1613.6h-2.93zM2013.5 1586.6h2.93V1607.5h-2.93zM2015.8 1585.7h2.93V1598.8h-2.93zM2018.1 1561.4h2.93V1588.3h-2.93zM2020.5 1539.7h2.93V1570.7h-2.93zM2022.8 1529.1h2.93V1551.9h-2.93zM2025.1 1519.3h2.93V1542.0h-2.93zM2027.5 1524.6h2.93V1545.1h-2.93zM2029.8 1531.3h2.93V1552.4h-2.93zM2032.1 1544.5h2.93V1570.5h-2.93zM2034.5 1565.2h2.93V1598.5h-2.93zM2036.8 1593.0h2.93V1623.3h-2.93zM2039.1 1618.5h2.93V1635.5h-2.93zM2041.5 1632.0h2.93V1644.8h-2.93zM2043.8 1642.1h2.93V1653.9h-2.93zM2046.1 1650.4h2.93V1662.1h-2.93zM2048.5 1658.9h2.93V1666.7h-2.93zM2050.8 1659.0h2.93V1667.5h-2.93zM2053.1 1658.6h2.93V1666.8h-2.93zM2055.5 1663.7h2.93V1670.4h-2.93zM2057.8 1660.6h2.93V1668.0h-2.93zM2060.1 1661.6h2.93V1672.3h-2.93zM2062.5 1660.4h2.93V1669.2h-2.93zM2064.8 1663.5h2.93V1670.9h-2.93zM2067.1 1662.7h2.93V1671.3h-2.93zM2069.5 1662.2h2.93V1672.6h-2.93zM2071.8 1665.8h2.93V1673.5h-2.93zM2074.1 1660.1h2.93V1671.8h-2.93zM2076.5 1662.6h2.93V1668.9h-2.93zM2078.8 1661.8h2.93V1671.2h-2.93zM2081.1 1662.0h2.93V1671.8h-2.93zM2083.5 1663.0h2.93V1671.8h-2.93zM2085.8 1662.8h2.93V1671.2h-2.93zM2088.1 1661.7h2.93V1672.8h-2.93zM2090.5 1661.8h2.93V1669.8h-2.93zM2092.8 1663.3h2.93V1672.2h-2.93zM2095.1 1663.6h2.93V1669.8h-2.93zM2097.5 1662.5h2.93V1670.0h-2.93zM2099.8 1664.0h2.93V1670.7h-2.93zM2102.1 1661.1h2.93V1671.8h-2.93zM2104.5 1661.9h2.93V1671.6h-2.93zM2106.8 1663.9h2.93V1672.7h-2.93zM2109.1 1664.8h2.93V1672.3h-2.93zM2111.5 1664.0h2.93V1671.2h-2.93zM2113.8 1663.5h2.93V1668.6h-2.93zM2116.1 1661.1h2.93V1670.5h-2.93zM2118.5 1662.0h2.93V1671.7h-2.93zM2120.8 1665.0h2.93V1672.8h-2.93zM2123.1 1663.1h2.93V1671.5h-2.93zM2125.5 1662.6h2.93V1673.0h-2.93zM2127.8 1660.5h2.93V1668.7h-2.93zM2130.1 1662.6h2.93V1673.4h-2.93zM2132.5 1659.2h2.93V1673.4h-2.93zM2134.8 1661.7h2.93V1670.7h-2.93zM2137.1 1661.8h2.93V1673.0h-2.93zM2139.5 1660.6h2.93V1670.1h-2.93zM2141.8 1663.0h2.93V1672.2h-2.93zM2144.1 1661.1h2.93V1673.2h-2.93zM2146.5 1663.4h2.93V1672.8h-2.93zM2148.8 1660.9h2.93V1669.3h-2.93zM2151.1 1662.8h2.93V1669.4h-2.93z"/>
<g id="peak-labels" font-size="65" fill="#0000ff">
<text transform="translate(426.6,611.5) rotate(-90)">(001)</text>
<text transform="translate(686.4,411.0) rotate(-90)">(110)</text>
<text transform="translate(1023.2,1413.2) rotate(-90)">(111)</text>
<text transform="translate(1300.8,1413.2) rotate(-90)">(002)</text>
<text transform="translate(1481.7,1413.2) rotate(-90)">(102)</text>
<text transform="translate(1674.3,1413.2) rotate(-90)">(211)</text>
<text transform="translate(2042.7,1413.2) rotate(-90)">(220)</text>
</g>
<g id="sample-title" fill="#0000ff">
<text x="1102.4" y="1134.4" font-size="72">Na<tspan font-size="47" dy="18">0.35</tspan><tspan dy="-18">K</tspan><tspan font-size="47" dy="18">0.65</tspan><tspan dy="-18">NbO</tspan><tspan font-size="47" dy="18">3</tspan><tspan dy="-18"> nanofibers</tspan></text>
<line x1="1101.5" y1="1144.0" x2="1192.5" y2="1144.0" stroke="#0000ff" stroke-width="4.4"/>
<line x1="1287.0" y1="1144.0" x2="1334.6" y2="1144.0" stroke="#0000ff" stroke-width="4.4"/>
<line x1="1429.0" y1="1144.0" x2="1575.5" y2="1144.0" stroke="#0000ff" stroke-width="4.4"/>
<line x1="1603.7" y1="1144.0" x2="1956.0" y2="1144.0" stroke="#0000ff" stroke-width="4.4"/>
</g>
<g id="inset">
<line x1="1028.1" y1="148.3" x2="1028.1" y2="1004.6" stroke="#000" stroke-width="4.2"/>
<line x1="1007.8" y1="168.0" x2="2155.8" y2="168.0" stroke="#000" stroke-width="4.5"/>
<line x1="2153.5" y1="157.0" x2="2153.5" y2="1004.6" stroke="#000" stroke-width="4.7"/>
<line x1="1007.8" y1="1003.4" x2="2155.8" y2="1003.4" stroke="#000" stroke-width="2.6"/>
<line x1="1130.4" y1="157.0" x2="1130.4" y2="168.0" stroke="#000" stroke-width="3.8"/>
<line x1="1130.4" y1="991.5" x2="1130.4" y2="1003.4" stroke="#000" stroke-width="3.8"/>
<line x1="1232.7" y1="148.3" x2="1232.7" y2="168.0" stroke="#000" stroke-width="3.4"/>
<line x1="1232.7" y1="979.8" x2="1232.7" y2="1003.4" stroke="#000" stroke-width="3.4"/>
<line x1="1335.0" y1="157.0" x2="1335.0" y2="168.0" stroke="#000" stroke-width="3.8"/>
<line x1="1335.0" y1="991.5" x2="1335.0" y2="1003.4" stroke="#000" stroke-width="3.8"/>
<line x1="1437.3" y1="148.3" x2="1437.3" y2="168.0" stroke="#000" stroke-width="3.4"/>
<line x1="1437.3" y1="979.8" x2="1437.3" y2="1003.4" stroke="#000" stroke-width="3.4"/>
<line x1="1539.6" y1="157.0" x2="1539.6" y2="168.0" stroke="#000" stroke-width="3.8"/>
<line x1="1539.6" y1="991.5" x2="1539.6" y2="1003.4" stroke="#000" stroke-width="3.8"/>
<line x1="1641.9" y1="148.3" x2="1641.9" y2="168.0" stroke="#000" stroke-width="3.4"/>
<line x1="1641.9" y1="979.8" x2="1641.9" y2="1003.4" stroke="#000" stroke-width="3.4"/>
<line x1="1744.2" y1="157.0" x2="1744.2" y2="168.0" stroke="#000" stroke-width="3.8"/>
<line x1="1744.2" y1="991.5" x2="1744.2" y2="1003.4" stroke="#000" stroke-width="3.8"/>
<line x1="1846.5" y1="148.3" x2="1846.5" y2="168.0" stroke="#000" stroke-width="3.4"/>
<line x1="1846.5" y1="979.8" x2="1846.5" y2="1003.4" stroke="#000" stroke-width="3.4"/>
<line x1="1948.8" y1="157.0" x2="1948.8" y2="168.0" stroke="#000" stroke-width="3.8"/>
<line x1="1948.8" y1="991.5" x2="1948.8" y2="1003.4" stroke="#000" stroke-width="3.8"/>
<line x1="2051.1" y1="148.3" x2="2051.1" y2="168.0" stroke="#000" stroke-width="3.4"/>
<line x1="2051.1" y1="979.8" x2="2051.1" y2="1003.4" stroke="#000" stroke-width="3.4"/>
<line x1="1019.4" y1="272.4" x2="1028.1" y2="272.4" stroke="#000" stroke-width="3.6"/>
<line x1="2142.2" y1="272.4" x2="2153.5" y2="272.4" stroke="#000" stroke-width="3.6"/>
<line x1="1007.8" y1="376.8" x2="1028.1" y2="376.8" stroke="#000" stroke-width="3.4"/>
<line x1="2130.4" y1="376.8" x2="2153.5" y2="376.8" stroke="#000" stroke-width="3.4"/>
<line x1="1019.4" y1="481.2" x2="1028.1" y2="481.2" stroke="#000" stroke-width="3.6"/>
<line x1="2142.2" y1="481.2" x2="2153.5" y2="481.2" stroke="#000" stroke-width="3.6"/>
<line x1="1007.8" y1="585.6" x2="1028.1" y2="585.6" stroke="#000" stroke-width="3.4"/>
<line x1="2130.4" y1="585.6" x2="2153.5" y2="585.6" stroke="#000" stroke-width="3.4"/>
<line x1="1019.4" y1="690.0" x2="1028.1" y2="690.0" stroke="#000" stroke-width="3.6"/>
<line x1="2142.2" y1="690.0" x2="2153.5" y2="690.0" stroke="#000" stroke-width="3.6"/>
<line x1="1007.8" y1="794.5" x2="1028.1" y2="794.5" stroke="#000" stroke-width="3.4"/>
<line x1="2130.4" y1="794.5" x2="2153.5" y2="794.5" stroke="#000" stroke-width="3.4"/>
<line x1="1019.4" y1="898.9" x2="1028.1" y2="898.9" stroke="#000" stroke-width="3.6"/>
<line x1="2142.2" y1="898.9" x2="2153.5" y2="898.9" stroke="#000" stroke-width="3.6"/>
<g font-size="44.5" fill="#000">
<text x="1000.5" y="181.6" text-anchor="end">4.00</text>
<text x="1000.5" y="390.4" text-anchor="end">3.99</text>
<text x="1000.5" y="599.2" text-anchor="end">3.98</text>
<text x="1000.5" y="808.1" text-anchor="end">3.97</text>
<text x="1000.5" y="1016.9" text-anchor="end">3.96</text>
<text x="1028.9" y="140.6" text-anchor="middle">0</text>
<text x="1233.5" y="140.6" text-anchor="middle">2</text>
<text x="1438.1" y="140.6" text-anchor="middle">4</text>
<text x="1642.7" y="140.6" text-anchor="middle">6</text>
<text x="1847.3" y="140.6" text-anchor="middle">8</text>
<text x="2051.9" y="140.6" text-anchor="middle">10</text>
</g>
<text id="ititle" x="1352.5" y="92.7" font-size="55.4" fill="#000">cos<tspan font-size="37" dy="-22">2</tspan><tspan dy="22" style="font-family:'Liberation Serif','Times New Roman',serif" font-size="56.5">Θ</tspan> (1/sin<tspan style="font-family:'Liberation Serif','Times New Roman',serif" font-size="56.5">Θ</tspan>+1/<tspan style="font-family:'Liberation Serif','Times New Roman',serif" font-size="56.5">Θ</tspan>)</text>
<text id="iytitle" transform="translate(895.6,1017.3) rotate(-90)" font-size="55.5" fill="#000">Apparent lattice parameter <tspan font-style="italic">a</tspan><tspan font-size="35" dy="15">cos<tspan style="font-family:'Liberation Serif','Times New Roman',serif">Θ</tspan></tspan><tspan dy="-15"> [Å]</tspan></text>
<line x1="1028.1" y1="916.4" x2="2104.3" y2="236.9" stroke="#0000ff" stroke-width="4.0"/>
<line x1="1002.8" y1="916.5" x2="1028.1" y2="916.5" stroke="#0000ff" stroke-width="7.2"/>
<line x1="1044.0" y1="916.1" x2="1146.8" y2="916.1" stroke="#000" stroke-width="2.2"/>
<polygon points="1052.7,916.1 1080.8,908.2 1080.8,924.2" fill="#000"/>
<g fill="none" stroke="#0000ff" stroke-width="4.2">
<circle cx="2046.0" cy="286.5" r="11.4"/>
<circle cx="1716.3" cy="461.0" r="11.2"/>
<circle cx="1564.6" cy="585.7" r="10.6"/>
<circle cx="1471.1" cy="594.2" r="10.4"/>
<circle cx="1355.4" cy="706.6" r="10.2"/>
<circle cx="1404.8" cy="719.6" r="10.2"/>
<circle cx="1281.5" cy="761.5" r="10.0"/>
</g>
<g font-size="45" fill="#0000ff" text-anchor="middle">
<text x="2045.0" y="355.8">001</text>
<text x="1643.8" y="477.2">110</text>
<text x="1636.6" y="599.0">111</text>
<text x="1399.8" y="614.2">002</text>
<text x="1299.6" y="692.4">211</text>
<text x="1472.5" y="738.0">102</text>
<text x="1283.6" y="830.2">220</text>
</g>
<text id="r2" x="1596" y="346" font-size="52.2" fill="#000"><tspan font-style="italic">R</tspan><tspan font-size="34" dy="-20">2</tspan><tspan dy="20"> = 0.9754</tspan></text>
<text id="a0" x="1163.5" y="929.3" font-size="53.2" fill="#000"><tspan font-style="italic">a</tspan><tspan font-size="35" dy="15">o</tspan><tspan dy="-15"> = 3.964 Å</tspan></text>
</g>
</svg>
</body></html>
